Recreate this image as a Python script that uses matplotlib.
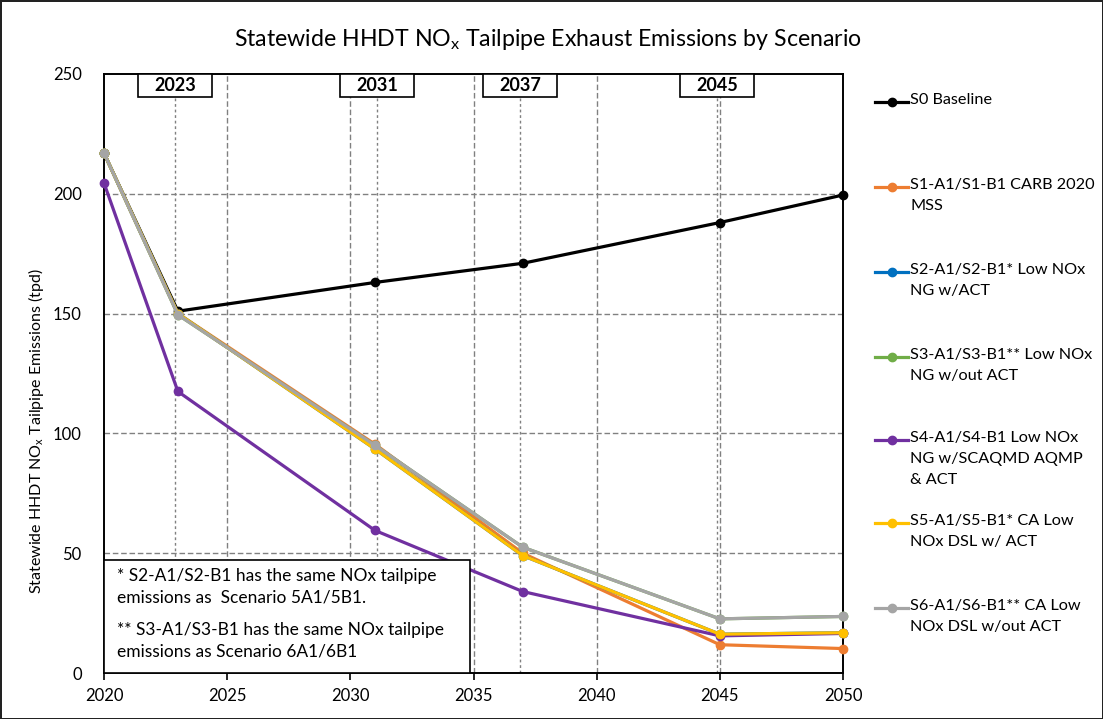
import matplotlib

matplotlib.use("Agg")
import matplotlib.pyplot as plt
from matplotlib.lines import Line2D
from matplotlib.patches import Rectangle

plt.rcParams["font.family"] = ["Lato", "DejaVu Sans"]
plt.rcParams["mathtext.fontset"] = "custom"
plt.rcParams["mathtext.rm"] = "Lato"

years = [2020, 2023, 2031, 2037, 2045, 2050]

s0_baseline = [217.0, 151.0, 163.0, 171.0, 188.0, 199.5]
s1_carb = [217.0, 150.0, 95.5, 50.0, 11.8, 10.2]
s2_low_nox_ng_act = [217.0, 150.0, 93.5, 49.0, 16.2, 16.8]
s3_low_nox_ng_no_act = [217.0, 149.5, 95.0, 52.5, 22.6, 23.6]
s4_scaqmd = [204.5, 117.5, 59.5, 34.0, 15.5, 16.5]
s5_ca_dsl_act = [217.0, 150.0, 93.5, 49.0, 16.2, 16.8]
s6_ca_dsl_no_act = [217.0, 149.5, 95.0, 52.5, 22.6, 23.6]

series = [
    ("S0 Baseline", s0_baseline, "#000000"),
    ("S1-A1/S1-B1 CARB 2020\nMSS", s1_carb, "#ED7D31"),
    ("S2-A1/S2-B1* Low NOx\nNG w/ACT", s2_low_nox_ng_act, "#0070C0"),
    ("S3-A1/S3-B1** Low NOx\nNG w/out ACT", s3_low_nox_ng_no_act, "#70AD47"),
    ("S4-A1/S4-B1 Low NOx\nNG w/SCAQMD AQMP\n& ACT", s4_scaqmd, "#7030A0"),
    ("S5-A1/S5-B1* CA Low\nNOx DSL w/ ACT", s5_ca_dsl_act, "#FFC000"),
    ("S6-A1/S6-B1** CA Low\nNOx DSL w/out ACT", s6_ca_dsl_no_act, "#A5A5A5"),
]

milestones = [2023, 2031, 2037, 2045]
milestone_x = [2022.9, 2031.1, 2036.9, 2044.9]

footnotes = [
    "* S2-A1/S2-B1 has the same NOx tailpipe\nemissions as  Scenario 5A1/5B1.",
    "** S3-A1/S3-B1 has the same NOx tailpipe\nemissions as Scenario 6A1/6B1",
]

W, H = 1103, 719
fig = plt.figure(figsize=(W / 100, H / 100), dpi=100)
fig.patch.set_edgecolor("#222222")
fig.patch.set_linewidth(2)
ax = fig.add_axes([104 / W, 1 - 673 / H, (843 - 104) / W, (673 - 74) / H])


def px_to_year(px):
    return 2020 + (px - 104) * 30 / (843 - 104)


def py_to_val(py):
    return (673 - py) * 250 / (673 - 74)


ax.set_xlim(2020, 2050)
ax.set_ylim(0, 250)
ax.set_xticks(range(2020, 2051, 5))
ax.set_yticks(range(0, 251, 50))
ax.tick_params(axis="x", labelsize=12, length=5, width=1.2, direction="out", pad=6)
ax.tick_params(axis="y", labelsize=12, length=0, pad=16)
for sp in ax.spines.values():
    sp.set_linewidth(1.4)

for yv in range(50, 250, 50):
    ax.axhline(yv, color="#808080", lw=1, ls=(0, (4, 2)), zorder=1)
for xv in range(2025, 2050, 5):
    ax.axvline(xv, color="#808080", lw=1, ls=(0, (4, 2)), zorder=1)

box_h = 250 - py_to_val(97)
for year, xm in zip(milestones, milestone_x):
    ax.plot([xm, xm], [0, 250 - box_h], color="#808080", lw=1, ls=(0, (2, 2)), zorder=1)
    ax.add_patch(Rectangle((xm - 1.5, 250 - box_h), 3.0, box_h, facecolor="white",
                           edgecolor="black", lw=1.2, zorder=5, clip_on=False))
    ax.text(xm, 250 - box_h / 2, str(year), ha="center", va="center", fontsize=13,
            fontweight="bold", zorder=6)

for i, (label, vals, color) in enumerate(series):
    ax.plot(years, vals, color=color, lw=2.3, marker="o", markersize=6, zorder=3 + i * 0.1,
            clip_on=False)

fig.text(36 / W, 1 - 431 / H, "Statewide HHDT NO$_\\mathregular{x}$ Tailpipe Emissions (tpd)",
         ha="center", va="center", rotation=90, fontsize=11.5)
fig.text(548 / W, 1 - 40 / H, "Statewide HHDT NO$_\\mathregular{x}$ Tailpipe Exhaust Emissions by Scenario",
         ha="center", va="center", fontsize=16.7)

# footnote box over the lower left of the plot
ax.add_patch(Rectangle((2020, 0), px_to_year(470) - 2020, py_to_val(560),
                       facecolor="white", edgecolor="black", lw=1.2, zorder=7))
for note, top in zip(footnotes, [568, 622]):
    ax.text(px_to_year(117), py_to_val(top), note, ha="left", va="top",
            fontsize=12.5, linespacing=1.45, zorder=8)

# legend drawn by hand so the handles sit on the first text line
legend_y = [102, 187, 272, 357, 440, 523, 608]
for (label, vals, color), ly in zip(series, legend_y):
    yf = 1 - ly / H
    fig.add_artist(Line2D([875 / W, 908 / W], [yf, yf], color=color, lw=2.3))
    fig.add_artist(Line2D([892 / W], [yf], color=color, marker="o", markersize=6))
    fig.text(910 / W, yf + 9 / H, label, ha="left", va="top", fontsize=11.7, linespacing=1.62)

fig.savefig("out.png", dpi=100)
